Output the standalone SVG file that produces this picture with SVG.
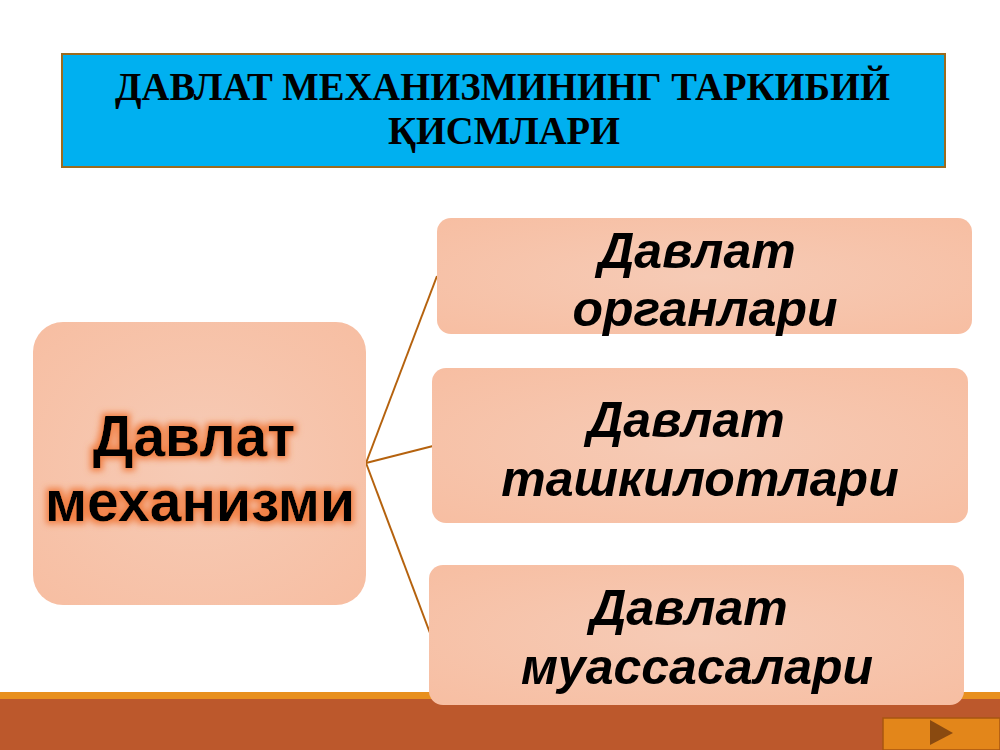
<svg xmlns="http://www.w3.org/2000/svg" width="1000" height="750" viewBox="0 0 1000 750">
<style>
.node{fill:url(#peach);}
.rt{font-family:"Liberation Sans",Arial,sans-serif;font-weight:bold;font-style:italic;font-size:50px;fill:#000;text-anchor:middle;}
.lt{font-family:"Liberation Sans",Arial,sans-serif;font-weight:bold;font-size:57px;fill:#000;text-anchor:middle;}
.tt{font-family:"Liberation Serif","Times New Roman",serif;font-weight:bold;font-size:41px;fill:#000;}
.conn{stroke:#B5620E;stroke-width:2;fill:none;}
</style>
<defs>
<radialGradient id="peach" cx="0.5" cy="0.5" r="0.7">
<stop offset="0" stop-color="#F6CBB6"/>
<stop offset="1" stop-color="#F7BEA2"/>
</radialGradient>
<filter id="glow" x="-10%" y="-20%" width="120%" height="140%">
<feMorphology in="SourceAlpha" operator="dilate" radius="3" result="d"/>
<feGaussianBlur in="d" stdDeviation="3" result="b"/>
<feFlood flood-color="#F07A3C" flood-opacity="0.9"/>
<feComposite in2="b" operator="in" result="g"/>
<feMerge><feMergeNode in="g"/><feMergeNode in="SourceGraphic"/></feMerge>
</filter>
</defs>
<rect width="1000" height="750" fill="#FFFFFF"/>
<g id="bottom-bar">
<rect x="0" y="692" width="1000" height="8" fill="#E8901E"/>
<rect x="0" y="699" width="1000" height="51" fill="#BC582C"/>
</g>
<g id="title">
<rect x="62" y="54" width="883" height="113" fill="#00B0F0" stroke="#9C6B1E" stroke-width="2"/>
<text class="tt" x="115" y="100" textLength="775" lengthAdjust="spacingAndGlyphs">ДАВЛАТ МЕХАНИЗМИНИНГ ТАРКИБИЙ</text>
<text class="tt" x="388" y="144" textLength="232" lengthAdjust="spacingAndGlyphs">ҚИСМЛАРИ</text>
</g>
<g id="connectors">
<line class="conn" x1="366" y1="463" x2="437" y2="276"/>
<line class="conn" x1="366" y1="463" x2="433" y2="446"/>
<line class="conn" x1="366" y1="463" x2="430" y2="633"/>
</g>
<g id="node-mechanism">
<rect class="node" x="33" y="322" width="333" height="283" rx="30"/>
<g filter="url(#glow)">
<text class="lt" x="194" y="456">Давлат</text>
<text class="lt" x="200" y="521">механизми</text>
</g>
</g>
<g id="node-organs">
<rect class="node" x="437" y="218" width="535" height="116" rx="14"/>
<text class="rt" x="697" y="268">Давлат</text>
<text class="rt" x="705" y="326">органлари</text>
</g>
<g id="node-organizations">
<rect class="node" x="432" y="368" width="536" height="155" rx="14"/>
<text class="rt" x="686" y="437">Давлат</text>
<text class="rt" x="700" y="496">ташкилотлари</text>
</g>
<g id="node-institutions">
<rect class="node" x="429" y="565" width="535" height="140" rx="14"/>
<text class="rt" x="689" y="625">Давлат</text>
<text class="rt" x="697" y="684">муассасалари</text>
</g>
<g id="next-button">
<rect x="883" y="718" width="117" height="32" fill="#E3861A" stroke="#A85510" stroke-width="1.5"/>
<polygon points="930,720 930,745 953,733" fill="#8A4A10"/>
</g>
</svg>
